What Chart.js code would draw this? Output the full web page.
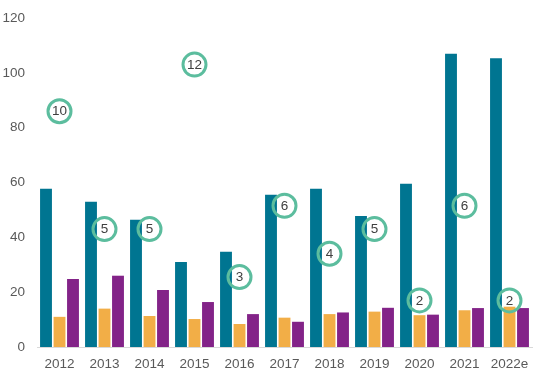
<!DOCTYPE html>
<html>
<head>
<meta charset="utf-8">
<script src="https://cdn.jsdelivr.net/npm/chart.js@4/dist/chart.umd.min.js"></script>
<style>
html,body{margin:0;padding:0;background:#fff;}
canvas{display:block;}
</style>
</head>
<body>
<canvas id="c" width="536" height="379"></canvas>
<script>
const categories = ["2012","2013","2014","2015","2016","2017","2018","2019","2020","2021","2022e"];
const seriesTeal   = [57.7, 53, 46.4, 31, 34.7, 55.5, 57.7, 47.8, 59.5, 107, 105.3];
const seriesOrange = [11, 14, 11.3, 10.2, 8.4, 10.7, 12, 12.9, 11.6, 13.4, 14.7];
const seriesPurple = [24.8, 26, 20.8, 16.4, 12, 9.2, 12.6, 14.3, 11.8, 14.2, 14.2];
const circlePositions = [86, 43, 43, 103, 25.5, 51.5, 34, 43, 17, 51.5, 17];
const circleLabels = [10, 5, 5, 12, 3, 6, 4, 5, 2, 6, 2];
const yTicks = [0, 20, 40, 60, 80, 100, 120];

const circleText = {
  id: 'circleText',
  afterDatasetsDraw(chart) {
    const meta = chart.getDatasetMeta(3);
    const ctx = chart.ctx;
    ctx.save();
    ctx.font = '13.5px "Liberation Sans", Arial, sans-serif';
    ctx.fillStyle = '#404040';
    ctx.textAlign = 'center';
    ctx.textBaseline = 'middle';
    meta.data.forEach((pt, i) => {
      ctx.fillText(String(circleLabels[i]), pt.x, pt.y + 0.5);
    });
    ctx.restore();
  }
};

new Chart(document.getElementById('c'), {
  type: 'bar',
  data: {
    labels: categories,
    datasets: [
      { data: seriesTeal, backgroundColor: '#007591', order: 1, categoryPercentage: 0.9, barPercentage: 0.88 },
      { data: seriesOrange, backgroundColor: '#F2AE47', order: 1, categoryPercentage: 0.9, barPercentage: 0.88 },
      { data: seriesPurple, backgroundColor: '#832388', order: 1, categoryPercentage: 0.9, barPercentage: 0.88 },
      { type: 'line', data: circlePositions, showLine: false, order: 0, clip: false,
        pointStyle: 'circle', pointRadius: 11.5, pointBorderWidth: 3,
        pointBackgroundColor: 'rgba(0,0,0,0)', pointBorderColor: '#5CBD9E' }
    ]
  },
  options: {
    responsive: false,
    animation: false,
    layout: { autoPadding: false, padding: { top: 18, right: 4, left: 0, bottom: 0 } },
    plugins: { legend: { display: false }, tooltip: { enabled: false } },
    scales: {
      x: {
        grid: { display: false, drawTicks: false },
        border: { display: true, color: '#d9d9d9', width: 1 },
        ticks: { color: '#595959', font: { size: 13.5, family: '"Liberation Sans", Arial, sans-serif' }, padding: 9, maxRotation: 0, autoSkip: false },
        afterFit(s) { s.height = 32; s.paddingLeft = 0; s.paddingRight = 0; }
      },
      y: {
        min: 0, max: 120,
        afterBuildTicks(s) { s.ticks = yTicks.map(v => ({ value: v })); },
        grid: { display: false, drawTicks: false },
        border: { display: false },
        ticks: { color: '#595959', font: { size: 13.5, family: '"Liberation Sans", Arial, sans-serif' }, padding: 12 },
        afterFit(s) { s.width = 37; s.paddingTop = 0; s.paddingBottom = 0; }
      }
    }
  },
  plugins: [circleText]
});
</script>
</body>
</html>
